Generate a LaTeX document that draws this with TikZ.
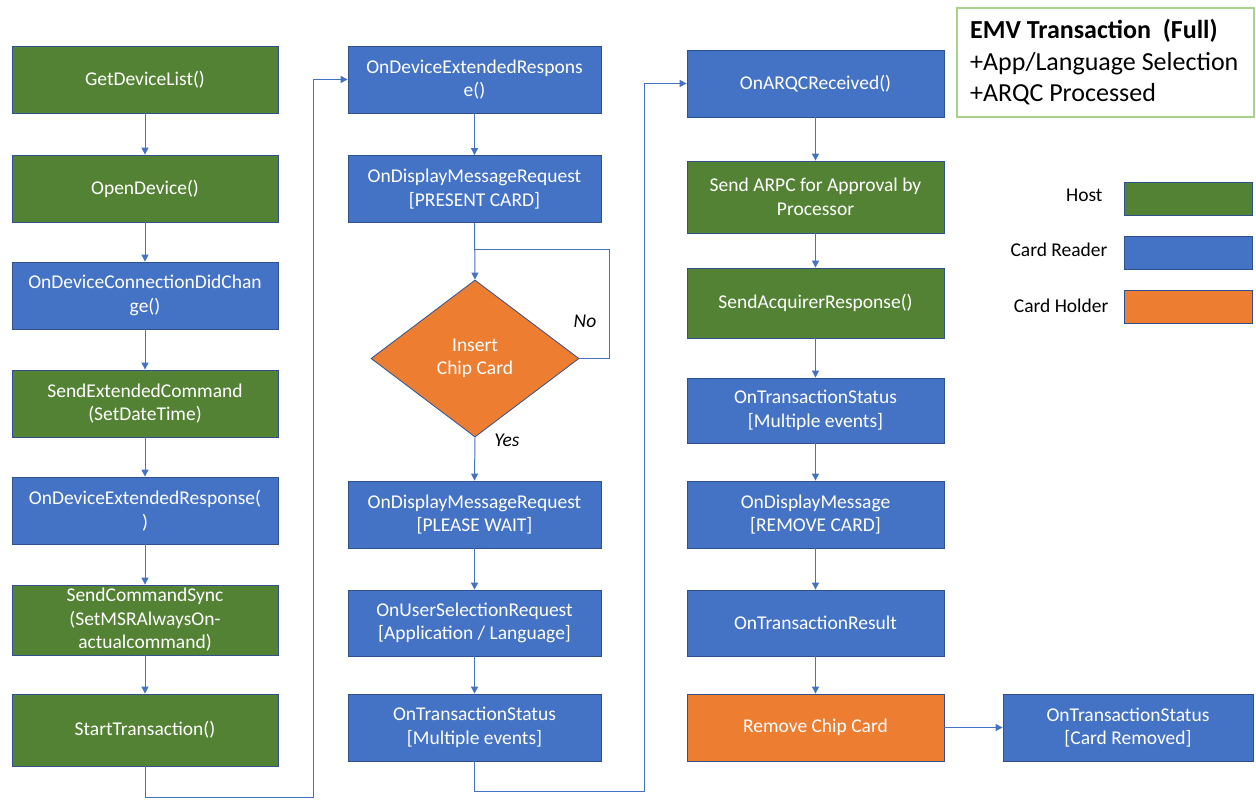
\documentclass[tikz,border=0pt]{standalone}
\usepackage{fontspec}
\setmainfont{Carlito}
\usetikzlibrary{shapes.geometric,arrows.meta}
\definecolor{hostg}{HTML}{548235}
\definecolor{readb}{HTML}{4472C4}
\definecolor{holdo}{HTML}{ED7D31}
\definecolor{edgeb}{HTML}{2F528F}
\definecolor{titleg}{HTML}{A9D18E}
\begin{document}
\begin{tikzpicture}[x=1pt,y=-1pt,
  box/.style={draw=edgeb,line width=0.8pt,text=white,align=center,inner sep=2pt,
    font=\fontsize{19.5}{23.5}\selectfont},
  hostbox/.style={box,fill=hostg},
  readbox/.style={box,fill=readb},
  holdbox/.style={box,fill=holdo},
  c1/.style={minimum width=266,minimum height=67},
  c2/.style={minimum width=253,minimum height=67},
  c3/.style={minimum width=257,minimum height=67},
  arr/.style={draw=readb,line width=1pt,-{Triangle[width=7pt,length=7pt]}},
  ln/.style={draw=readb,line width=1pt},
  lbl/.style={font=\fontsize{19.5}{23}\selectfont\itshape},
  leg/.style={font=\fontsize{19.5}{23}\selectfont,anchor=east},
  legbox/.style={draw=edgeb,line width=0.8pt,minimum width=128,minimum height=33,inner sep=0pt}]
\useasboundingbox (0,0) rectangle (1256,801);

% column 1
\node[hostbox,c1] (g1) at (145,79.5) {GetDeviceList()};
\node[hostbox,c1] (g2) at (145,188.5) {OpenDevice()};
\node[readbox,c1] (g3) at (145,295.5) {OnDeviceConnectionDidChan\\ge()};
\node[hostbox,c1] (g4) at (145,403.5) {SendExtendedCommand\\(SetDateTime)};
\node[readbox,c1] (g5) at (145,510.5) {OnDeviceExtendedResponse(\\)};
\node[hostbox,c1,minimum height=70] (g6) at (145,620) {SendCommandSync\\(SetMSRAlwaysOn-\\actualcommand)};
\node[hostbox,c1,minimum height=72] (g7) at (145,730) {StartTransaction()};

% column 2
\node[readbox,c2] (h1) at (474.5,79.5) {OnDeviceExtendedRespons\\e()};
\node[readbox,c2] (h2) at (474.5,189) {OnDisplayMessageRequest\\{}[PRESENT CARD]};
\node[holdbox,shape=diamond,minimum width=208,minimum height=157,inner sep=0pt,aspect=1.33] (d) at (475,358.5) {Insert\\Chip Card};
\node[readbox,c2] (h3) at (474.5,514.5) {OnDisplayMessageRequest\\{}[PLEASE WAIT]};
\node[readbox,c2,minimum height=66] (h4) at (474.5,623) {OnUserSelectionRequest\\{}[Application / Language]};
\node[readbox,c2] (h5) at (474.5,727.5) {OnTransactionStatus\\{}[Multiple events]};

% column 3
\node[readbox,c3] (k1) at (815.5,83.5) {OnARQCReceived()};
\node[hostbox,c3,minimum height=72] (k2) at (815.5,197) {Send ARPC for Approval by\\Processor};
\node[hostbox,c3,minimum height=70] (k3) at (815.5,303) {SendAcquirerResponse()};
\node[readbox,c3,minimum height=65] (k4) at (815.5,410.5) {OnTransactionStatus\\{}[Multiple events]};
\node[readbox,c3] (k5) at (815.5,514.5) {OnDisplayMessage\\{}[REMOVE CARD]};
\node[readbox,c3,minimum height=66] (k6) at (815.5,623) {OnTransactionResult};
\node[holdbox,c3] (k7) at (815.5,727.5) {Remove Chip Card};
\node[readbox,minimum width=250,minimum height=67] (k8) at (1128,727.5) {OnTransactionStatus\\{}[Card Removed]};

% column 1 arrows
\draw[arr] (g1) -- (g2);
\draw[arr] (g2) -- (g3);
\draw[arr] (g3) -- (g4);
\draw[arr] (g4) -- (g5);
\draw[arr] (g5) -- (g6);
\draw[arr] (g6) -- (g7);

% col1 -> col2
\coordinate (j1) at (313,797);
\coordinate (j2) at (313,79.5);
\draw[arr] (g7.south) |- (j1) -- (j2) -- (h1.west);

% column 2 arrows
\draw[arr] (h1) -- (h2);
\draw[arr] (h2.south) -- (d.north);
\coordinate (n1) at (609,358.5);
\coordinate (n2) at (609,249);
\coordinate (n3) at (475,249);
\draw[ln] (d.east) -- (n1) -- (n2) -- (n3);
\draw[arr] (d.south) -- (h3.north);
\draw[arr] (h3) -- (h4);
\draw[arr] (h4) -- (h5);
\node[lbl] (no) at (585,321) {No};
\node[lbl] (yes) at (507,440) {Yes};

% col2 -> col3
\coordinate (m1) at (644,791);
\coordinate (m2) at (644,83.5);
\draw[arr] (h5.south) |- (m1) -- (m2) -- (k1.west);

% column 3 arrows
\draw[arr] (k1) -- (k2);
\draw[arr] (k2) -- (k3);
\draw[arr] (k3) -- (k4);
\draw[arr] (k4) -- (k5);
\draw[arr] (k5) -- (k6);
\draw[arr] (k6) -- (k7);
\draw[arr] (k7) -- (k8);

% title
\node[draw=titleg,line width=1.5pt,minimum width=297,minimum height=109,inner sep=0pt] (tb) at (1105.5,62.5) {};
\node[anchor=west,align=left,inner sep=0pt,font=\fontsize{26}{31.5}\selectfont] (tt) at (970,62.5)
  {\textbf{EMV Transaction\ \ (Full)}\\+App/Language Selection\\+ARQC Processed};

% legend
\node[legbox,fill=hostg] (lh) at (1188,198.5) {};
\node[legbox,fill=readb] (lr) at (1188,253) {};
\node[legbox,fill=holdo] (lo) at (1188,306.5) {};
\node[leg] (lht) at (1106,195) {Host};
\node[leg] (lrt) at (1111,250) {Card Reader};
\node[leg] (lot) at (1112,306) {Card Holder};
\end{tikzpicture}
\end{document}
